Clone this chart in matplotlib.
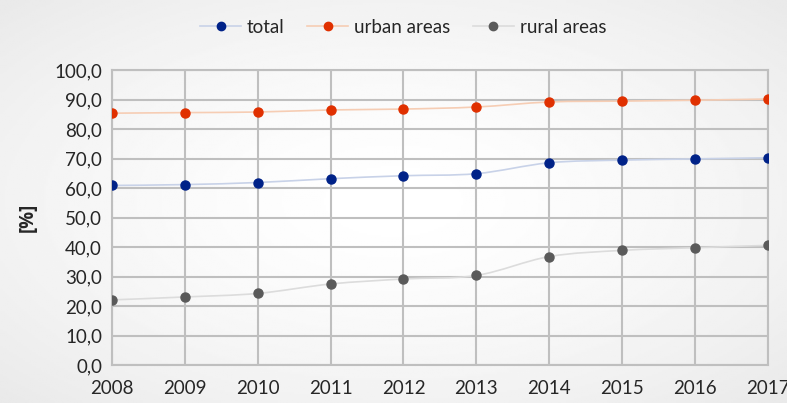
import numpy as np
import matplotlib.pyplot as plt
from matplotlib.path import Path
from matplotlib.patches import PathPatch

years = [2008, 2009, 2010, 2011, 2012, 2013, 2014, 2015, 2016, 2017]
total = [60.9, 61.2, 61.9, 63.2, 64.2, 64.9, 68.6, 69.5, 69.9, 70.3]
urban = [85.4, 85.6, 85.8, 86.5, 86.8, 87.5, 89.2, 89.5, 89.8, 90.2]
rural = [22.1, 23.1, 24.3, 27.5, 29.2, 30.4, 36.8, 38.9, 39.8, 40.6]
yticks = np.arange(0, 101, 10)

plt.rcParams['font.family'] = ['Lato', 'DejaVu Sans']

fig = plt.figure(figsize=(7.87, 4.03), dpi=100)

# radial gradient background like the Excel chart area
bg = fig.add_axes([0, 0, 1, 1], zorder=-10)
gx, gy = np.meshgrid(np.linspace(-1, 1, 400), np.linspace(-1, 1, 200))
r = np.clip(np.sqrt(gx**2 + gy**2) / 1.4, 0, 1)
bg.imshow(1 - 0.085 * r**1.5, cmap='gray', vmin=0, vmax=1, aspect='auto',
          extent=[0, 1, 0, 1])
bg.axis('off')

ax = fig.add_axes([0.142, 0.094, 0.834, 0.732])
ax.patch.set_alpha(0)


def smooth_path(x, y):
    # Catmull-Rom style bezier, like Excel's "smoothed line"
    x = np.asarray(x, float)
    y = np.asarray(y, float)
    verts = [(x[0], y[0])]
    codes = [Path.MOVETO]
    n = len(x)
    for i in range(n - 1):
        x0, y0 = (x[i - 1], y[i - 1]) if i > 0 else (x[i], y[i])
        x3, y3 = (x[i + 2], y[i + 2]) if i + 2 < n else (x[i + 1], y[i + 1])
        c1 = (x[i] + (x[i + 1] - x0) / 6, y[i] + (y[i + 1] - y0) / 6)
        c2 = (x[i + 1] - (x3 - x[i]) / 6, y[i + 1] - (y3 - y[i]) / 6)
        verts += [c1, c2, (x[i + 1], y[i + 1])]
        codes += [Path.CURVE4] * 3
    return Path(verts, codes)


series = [
    ('total', total, '#c8d2e8', '#002288'),
    ('urban areas', urban, '#f6cdb4', '#e03000'),
    ('rural areas', rural, '#dcdcdc', '#5a5a5a'),
]
for name, vals, lc, mc in series:
    ax.add_patch(PathPatch(smooth_path(years, vals), fill=False,
                           edgecolor=lc, lw=1.2, zorder=3))
    ax.plot(years, vals, ls='none', marker='o', ms=6.5, color=mc, zorder=4)
    # legend proxy
    ax.plot([], [], color=lc, lw=1.2, marker='o', ms=6, mfc=mc, mec=mc,
            label=name)

ax.set_xlim(2008, 2017)
ax.set_ylim(0, 100)
ax.set_xticks(years)
ax.set_yticks(yticks)
ax.set_yticklabels([f'{v:.1f}'.replace('.', ',') for v in yticks])
ax.grid(True, color='#bfbfbf', lw=1.5)
for s in ax.spines.values():
    s.set_color('#bfbfbf')
    s.set_linewidth(1.5)
ax.tick_params(length=0, labelsize=13.5, colors='#262626', pad=7)
ax.tick_params(axis='x', pad=11)
ax.set_ylabel('[%]', fontsize=13.5, fontweight='bold', color='#262626',
              family=['Open Sans', 'DejaVu Sans'], labelpad=12)

fig.legend(loc='center', bbox_to_anchor=(0.512, 0.933), ncol=3, frameon=False,
           fontsize=13.5, handlelength=2.2, columnspacing=1.2, handletextpad=0.3,
           labelcolor='#262626')

fig.savefig('out.png', dpi=100)
